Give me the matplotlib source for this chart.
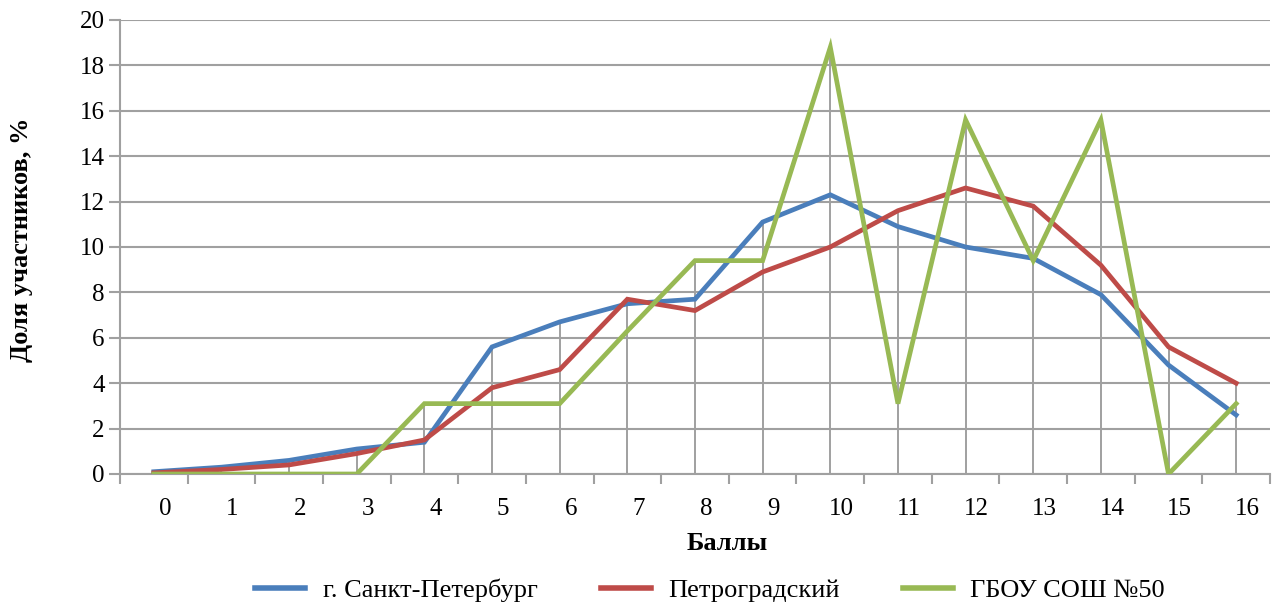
import matplotlib
matplotlib.use("Agg")
import matplotlib.pyplot as plt
import matplotlib.transforms as mtransforms
import numpy as np

scores = list(range(17))
spb = [0.1, 0.3, 0.6, 1.1, 1.4, 5.6, 6.7, 7.5, 7.7, 11.1, 12.3, 10.9, 10.0, 9.5, 7.9, 4.8, 2.6]
petro = [0.05, 0.2, 0.4, 0.9, 1.5, 3.8, 4.6, 7.7, 7.2, 8.9, 10.0, 11.6, 12.6, 11.8, 9.2, 5.6, 4.0]
school = [0, 0, 0, 0, 3.1, 3.1, 3.1, 6.3, 9.4, 9.4, 18.8, 3.1, 15.6, 9.4, 15.6, 0, 3.1]
names = ["г. Санкт-Петербург", "Петроградский", "ГБОУ СОШ №50"]
colors = ["#4A7EBB", "#BE4B48", "#98B954"]
yticks = list(range(0, 21, 2))

plt.rcParams['font.family'] = ['Liberation Serif', 'DejaVu Serif']

fig = plt.figure(figsize=(12.72, 6.07), dpi=100)
W, H = 1272, 607
ax = fig.add_axes([120 / W, 1 - 474 / H, (1270 - 120) / W, (474 - 20) / H])

grid_c = "#A0A0A0"
ax.set_ylim(0, 20)
ax.set_xlim(-0.5, 16.5)
ax.set_yticks(yticks)
ax.yaxis.grid(True, color=grid_c, linewidth=1.5, zorder=0)
ax.set_axisbelow(True)

# drop lines
tops = np.max(np.vstack([spb, petro, school]), axis=0)
ax.vlines(scores, 0, tops, colors=grid_c, linewidth=1.4, zorder=1)

for vals, name, c in zip([spb, petro, school], names, colors):
    ax.plot(scores, vals, color=c, linewidth=3.4, label=name, zorder=3,
            solid_joinstyle='miter')

for s in ["top", "right"]:
    ax.spines[s].set_visible(False)
for s in ["left", "bottom"]:
    ax.spines[s].set_color(grid_c)
    ax.spines[s].set_linewidth(1.5)

ax.set_xticks(scores)
ax.set_xticklabels([str(s) for s in scores])
ax.set_xticks(np.arange(-0.5, 16.6, 1.0), minor=True)
ax.tick_params(axis='x', which='major', length=0, pad=17, labelsize=18)
ax.tick_params(axis='x', which='minor', length=7, width=1.5, color=grid_c, direction='out')
ax.tick_params(axis='y', length=8, width=1.5, color=grid_c, pad=3, labelsize=18)

offset = mtransforms.ScaledTranslation(11 / 100, 0, fig.dpi_scale_trans)
for lab in ax.get_xticklabels():
    lab.set_transform(lab.get_transform() + offset)

fig.text(22 / W, 1 - 240 / H, "Доля участников, %", rotation=90, ha='center', va='center',
         fontsize=19, fontweight='bold')
fig.text(727 / W, 1 - 543 / H, "Баллы", ha='center', va='center', fontsize=19, fontweight='bold')

leg = fig.legend(loc='center', bbox_to_anchor=(710 / W, 1 - 590 / H), ncol=3, frameon=False,
                 fontsize=19, handlelength=1.9, columnspacing=2.4, handletextpad=0.65)
for h in leg.get_lines():
    h.set_linewidth(4)

fig.savefig("out.png", dpi=100)
